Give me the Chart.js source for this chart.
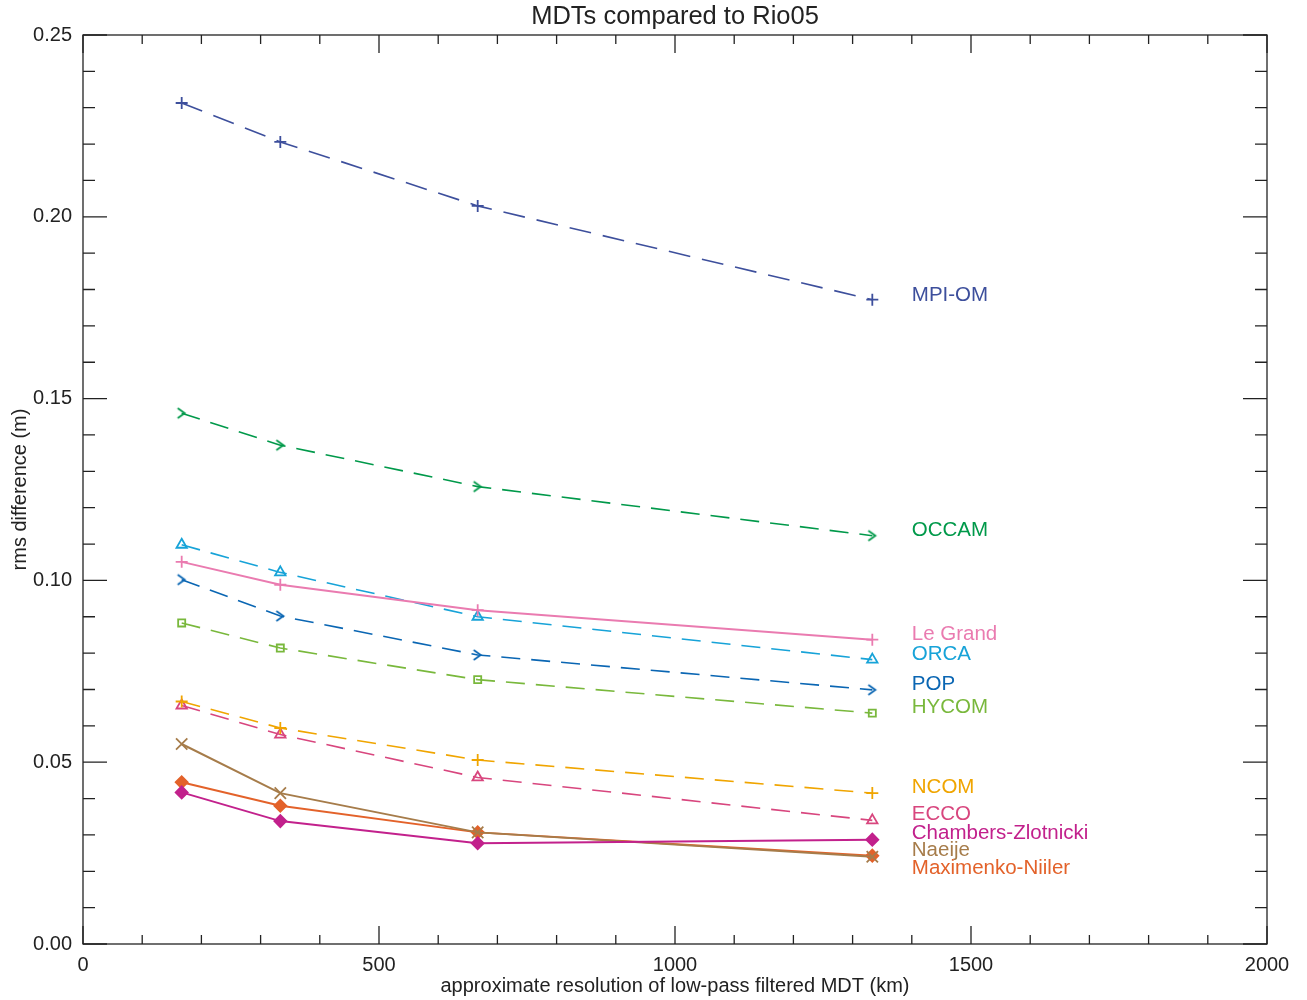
<!DOCTYPE html>
<html>
<head>
<meta charset="utf-8">
<script src="https://cdn.jsdelivr.net/npm/chart.js@4.4.1/dist/chart.umd.min.js"></script>
<style>
body { margin: 0; background: #fff; }
#wrap { width: 1307px; height: 1000px; }
</style>
</head>
<body>
<div id="wrap"><canvas id="mdtChart" width="1307" height="1000"></canvas></div>
<script>
// filter scales (km) and rms differences (m)
var resolution = [166.7, 333.3, 666.7, 1333.3];

var mpiom     = [0.2313, 0.2206, 0.2030, 0.1772];
var occam     = [0.1460, 0.1372, 0.1258, 0.1123];
var orca      = [0.1098, 0.1022, 0.0900, 0.0782];
var legrand   = [0.1051, 0.0988, 0.0918, 0.0837];
var pop       = [0.1002, 0.0902, 0.0795, 0.0699];
var hycom     = [0.0883, 0.0814, 0.0727, 0.0635];
var ncom      = [0.0667, 0.0594, 0.0506, 0.0415];
var ecco      = [0.0656, 0.0576, 0.0458, 0.0340];
var naeije    = [0.0550, 0.0415, 0.0307, 0.0240];
var maxniiler = [0.0445, 0.0380, 0.0307, 0.0243];
var chambers  = [0.0417, 0.0338, 0.0277, 0.0287];

var names  = ['MPI-OM', 'OCCAM', 'Le Grand', 'ORCA', 'POP', 'HYCOM', 'NCOM', 'ECCO', 'Chambers-Zlotnicki', 'Naeije', 'Maximenko-Niiler'];
var colors = ['#3d4f9c', '#00994a', '#ea7bb0', '#17a3d8', '#0a66b3', '#79b83c', '#f0a500', '#d8467e', '#c2218c', '#a67c4a', '#e3622a'];
// where the names sit (x in km, y in m)
var labelX = 1400;
var labelY = [0.1785, 0.1139, 0.0853, 0.0796, 0.0713, 0.0650, 0.0430, 0.0356, 0.0304, 0.0257, 0.0208];

var xTicks = [0, 500, 1000, 1500, 2000];
var yTicks = [0, 0.05, 0.10, 0.15, 0.20, 0.25];

Chart.defaults.font.family = '"Liberation Sans", Arial, sans-serif';
Chart.defaults.color = '#222';

function chevron(color) {
    var c = document.createElement('canvas');
    c.width = 14; c.height = 14;
    var g = c.getContext('2d');
    g.strokeStyle = color;
    g.lineWidth = 1.8;
    g.beginPath();
    g.moveTo(3, 2); g.lineTo(10, 7); g.lineTo(3, 12);
    g.stroke();
    return c;
}

function pts(vals) {
    return vals.map(function (v, i) { return { x: resolution[i], y: v }; });
}

function series(idx, vals, dash, style, radius, filled, width) {
    return {
        label: names[idx],
        data: pts(vals),
        borderColor: colors[idx],
        backgroundColor: filled ? colors[idx] : 'rgba(0,0,0,0)',
        borderWidth: width || 1.6,
        borderDash: dash,
        pointStyle: style,
        pointRadius: radius,
        pointBorderColor: colors[idx],
        pointBorderWidth: 1.8,
        tension: 0
    };
}

var frame = {
    id: 'frame',
    afterDraw: function (chart) {
        var c = chart.ctx, a = chart.chartArea;
        var xs = chart.scales.x, ys = chart.scales.y;
        c.save();
        c.strokeStyle = '#222';
        c.lineWidth = 1.3;
        c.strokeRect(a.left, a.top, a.right - a.left, a.bottom - a.top);
        c.beginPath();
        for (var v = 0; v <= 2000; v += 100) {
            var px = xs.getPixelForValue(v);
            var len = v % 500 === 0 ? 18 : 9;
            c.moveTo(px, a.bottom); c.lineTo(px, a.bottom - len);
            c.moveTo(px, a.top); c.lineTo(px, a.top + len);
        }
        for (var i = 0; i <= 25; i++) {
            var py = ys.getPixelForValue(i / 100);
            var l = i % 5 === 0 ? 24 : 12;
            c.moveTo(a.left, py); c.lineTo(a.left + l, py);
            c.moveTo(a.right, py); c.lineTo(a.right - l, py);
        }
        c.stroke();

        c.fillStyle = '#222';
        c.font = '25.5px "Liberation Sans", Arial, sans-serif';
        c.textAlign = 'center';
        c.textBaseline = 'middle';
        c.fillText('MDTs compared to Rio05', (a.left + a.right) / 2, 17);

        c.font = '20.5px "Liberation Sans", Arial, sans-serif';
        c.textAlign = 'left';
        for (var k = 0; k < names.length; k++) {
            c.fillStyle = colors[k];
            c.fillText(names[k], xs.getPixelForValue(labelX), ys.getPixelForValue(labelY[k]));
        }
        c.restore();
    }
};

new Chart(document.getElementById('mdtChart'), {
    type: 'line',
    data: {
        datasets: [
            series(0, mpiom, [22, 12], 'cross', 6, false),
            series(1, occam, [19, 11], chevron(colors[1]), 7, false),
            series(2, legrand, [], 'cross', 6, false, 2),
            series(3, orca, [19, 11], 'triangle', 6, false),
            series(4, pop, [19, 11], chevron(colors[4]), 7, false),
            series(5, hycom, [19, 11], 'rect', 5, false),
            series(6, ncom, [19, 11], 'cross', 6, false),
            series(7, ecco, [19, 11], 'triangle', 6, false),
            series(8, chambers, [], 'rectRot', 6, true, 2),
            series(9, naeije, [], 'crossRot', 8, false, 2),
            series(10, maxniiler, [], 'rectRot', 6, true, 2)
        ]
    },
    options: {
        responsive: false,
        maintainAspectRatio: false,
        animation: false,
        layout: { padding: { top: 35, right: 40, left: 0, bottom: 0 } },
        plugins: {
            legend: { display: false },
            tooltip: { enabled: false }
        },
        scales: {
            x: {
                type: 'linear',
                min: 0, max: 2000,
                afterBuildTicks: function (s) { s.ticks = xTicks.map(function (v) { return { value: v }; }); },
                afterFit: function (s) { s.height = 56; },
                grid: { display: false },
                border: { display: false },
                ticks: {
                    padding: 1,
                    font: { size: 20 },
                    maxRotation: 0,
                    callback: function (v) { return String(v); }
                },
                title: {
                    display: true,
                    text: 'approximate resolution of low-pass filtered MDT (km)',
                    font: { size: 20 },
                    padding: { top: 0, bottom: 2 }
                }
            },
            y: {
                min: 0, max: 0.25,
                afterBuildTicks: function (s) { s.ticks = yTicks.map(function (v) { return { value: v }; }); },
                afterFit: function (s) { s.width = 83; },
                grid: { display: false },
                border: { display: false },
                ticks: {
                    padding: 3,
                    font: { size: 20 },
                    callback: function (v) { return v.toFixed(2); }
                },
                title: {
                    display: true,
                    text: 'rms difference (m)',
                    font: { size: 20 },
                    padding: { top: 8, bottom: 0 }
                }
            }
        }
    },
    plugins: [frame]
});
</script>
</body>
</html>
